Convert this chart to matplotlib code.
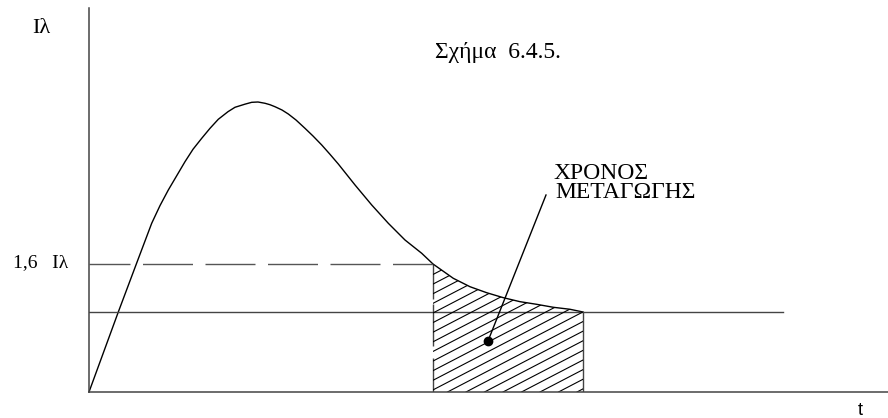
import matplotlib
matplotlib.use("Agg")
import matplotlib.pyplot as plt
from matplotlib.patches import Polygon

plt.rcParams['font.family'] = ['Liberation Serif', 'DejaVu Serif']

# ---- data (t in arbitrary units, current in units of I_lambda) ----
t_curve = [0.0, 0.293, 0.477, 0.627, 0.71, 0.793, 0.96, 1.04, 1.127, 1.21,
           1.293, 1.39, 1.46, 1.56, 1.627, 1.69, 1.76, 1.81, 1.86, 1.93,
           1.993, 2.07, 2.16, 2.24, 2.327, 2.41, 2.493, 2.66, 2.827, 2.993,
           3.16, 3.327, 3.44, 3.643, 3.81, 3.977, 4.143, 4.31, 4.477, 4.643,
           4.81, 4.94]
i_curve = [0.0, 1.0, 1.6125, 2.109, 2.33, 2.525, 2.879, 3.034, 3.171, 3.296,
           3.409, 3.504, 3.559, 3.598, 3.621, 3.625, 3.609, 3.591, 3.566, 3.525,
           3.475, 3.40, 3.296, 3.20, 3.088, 2.971, 2.85, 2.588, 2.338, 2.109,
           1.9, 1.734, 1.6, 1.421, 1.316, 1.241, 1.179, 1.129, 1.096, 1.059,
           1.034, 1.0]
i_nominal = 1.0
i_trip = 1.6
t_trip = 3.44        # curve crosses 1.6 I_lambda
t_end = 4.94         # curve settles at I_lambda
t_line_end = 6.94
dot_xy = (3.99, 0.6375)
label_xy = (4.57, 2.4625)

W, H = 888, 418
fig = plt.figure(figsize=(W / 100, H / 100), dpi=100)
ax = fig.add_axes([89 / W, 26 / H, (W - 89) / W, 384 / H])
ax.set_xlim(0, (W - 89) / 100)
ax.set_ylim(0, 4.8)
for s in ['top', 'right']:
    ax.spines[s].set_visible(False)
for s in ['left', 'bottom']:
    ax.spines[s].set_color('#444444')
    ax.spines[s].set_linewidth(1.1)
ax.set_xticks([])
ax.set_yticks([])

px = 0.72  # points per pixel

# main curve
ax.plot(t_curve, i_curve, color='black', lw=1.0, clip_on=False,
        solid_joinstyle='round')

# nominal current line
ax.plot([0, t_line_end], [i_nominal, i_nominal], color='#444444', lw=1.0)

# 1.6 I_lambda dashed line
ax.plot([0, t_trip], [i_trip, i_trip], color='#555555', lw=1.0,
        linestyle=(9 * px, (50 * px, 12.5 * px)))

# vertical dashed line at trip time
ax.plot([t_trip, t_trip], [0, i_trip], color='#444444', lw=1.0,
        linestyle=(0, (34 * px, 12 * px, 42 * px, 5 * px, 200 * px, 1)))

# vertical solid line at end
ax.plot([t_end, t_end], [0, i_nominal], color='#444444', lw=1.0)

# hatched region
verts = [(t_trip, 0)]
for t, v in zip(t_curve, i_curve):
    if t_trip <= t <= t_end:
        verts.append((t, v))
verts.append((t_end, 0))
poly = Polygon(verts, closed=True, fill=False, edgecolor='none')
ax.add_patch(poly)
slope = 0.65
spacing = 0.185
c = t_trip - 3.0
while c < t_end:
    x0, x1 = c, c + 2.0 / slope
    ln, = ax.plot([x0, x1], [0, 2.0], color='black', lw=0.8)
    ln.set_clip_path(poly)
    c += spacing

# annotation line with dot
ax.plot([label_xy[0], dot_xy[0]], [label_xy[1], dot_xy[1]], color='black', lw=1.0)
ax.plot([dot_xy[0]], [dot_xy[1]], 'o', color='black', markersize=6)


def fpos(x, y):
    return x / W, 1 - y / H


fig.text(*fpos(32, 33), 'Iλ', fontsize=16, va='baseline', ha='left')
fig.text(*fpos(13, 267), '1,6   Iλ', fontsize=14, va='baseline', ha='left')
fig.text(*fpos(435, 58), 'Σχήμα  6.4.5.', fontsize=17, va='baseline', ha='left')
fig.text(*fpos(553, 179), 'ΧΡΟΝΟΣ', fontsize=17, va='baseline', ha='left')
fig.text(*fpos(555, 198), 'ΜΕΤΑΓΩΓΗΣ', fontsize=17, va='baseline', ha='left')
fig.text(*fpos(860, 415), 't', fontsize=13, va='baseline', ha='center',
         family=['Liberation Sans', 'DejaVu Sans'])

fig.savefig('out.png', dpi=100)
